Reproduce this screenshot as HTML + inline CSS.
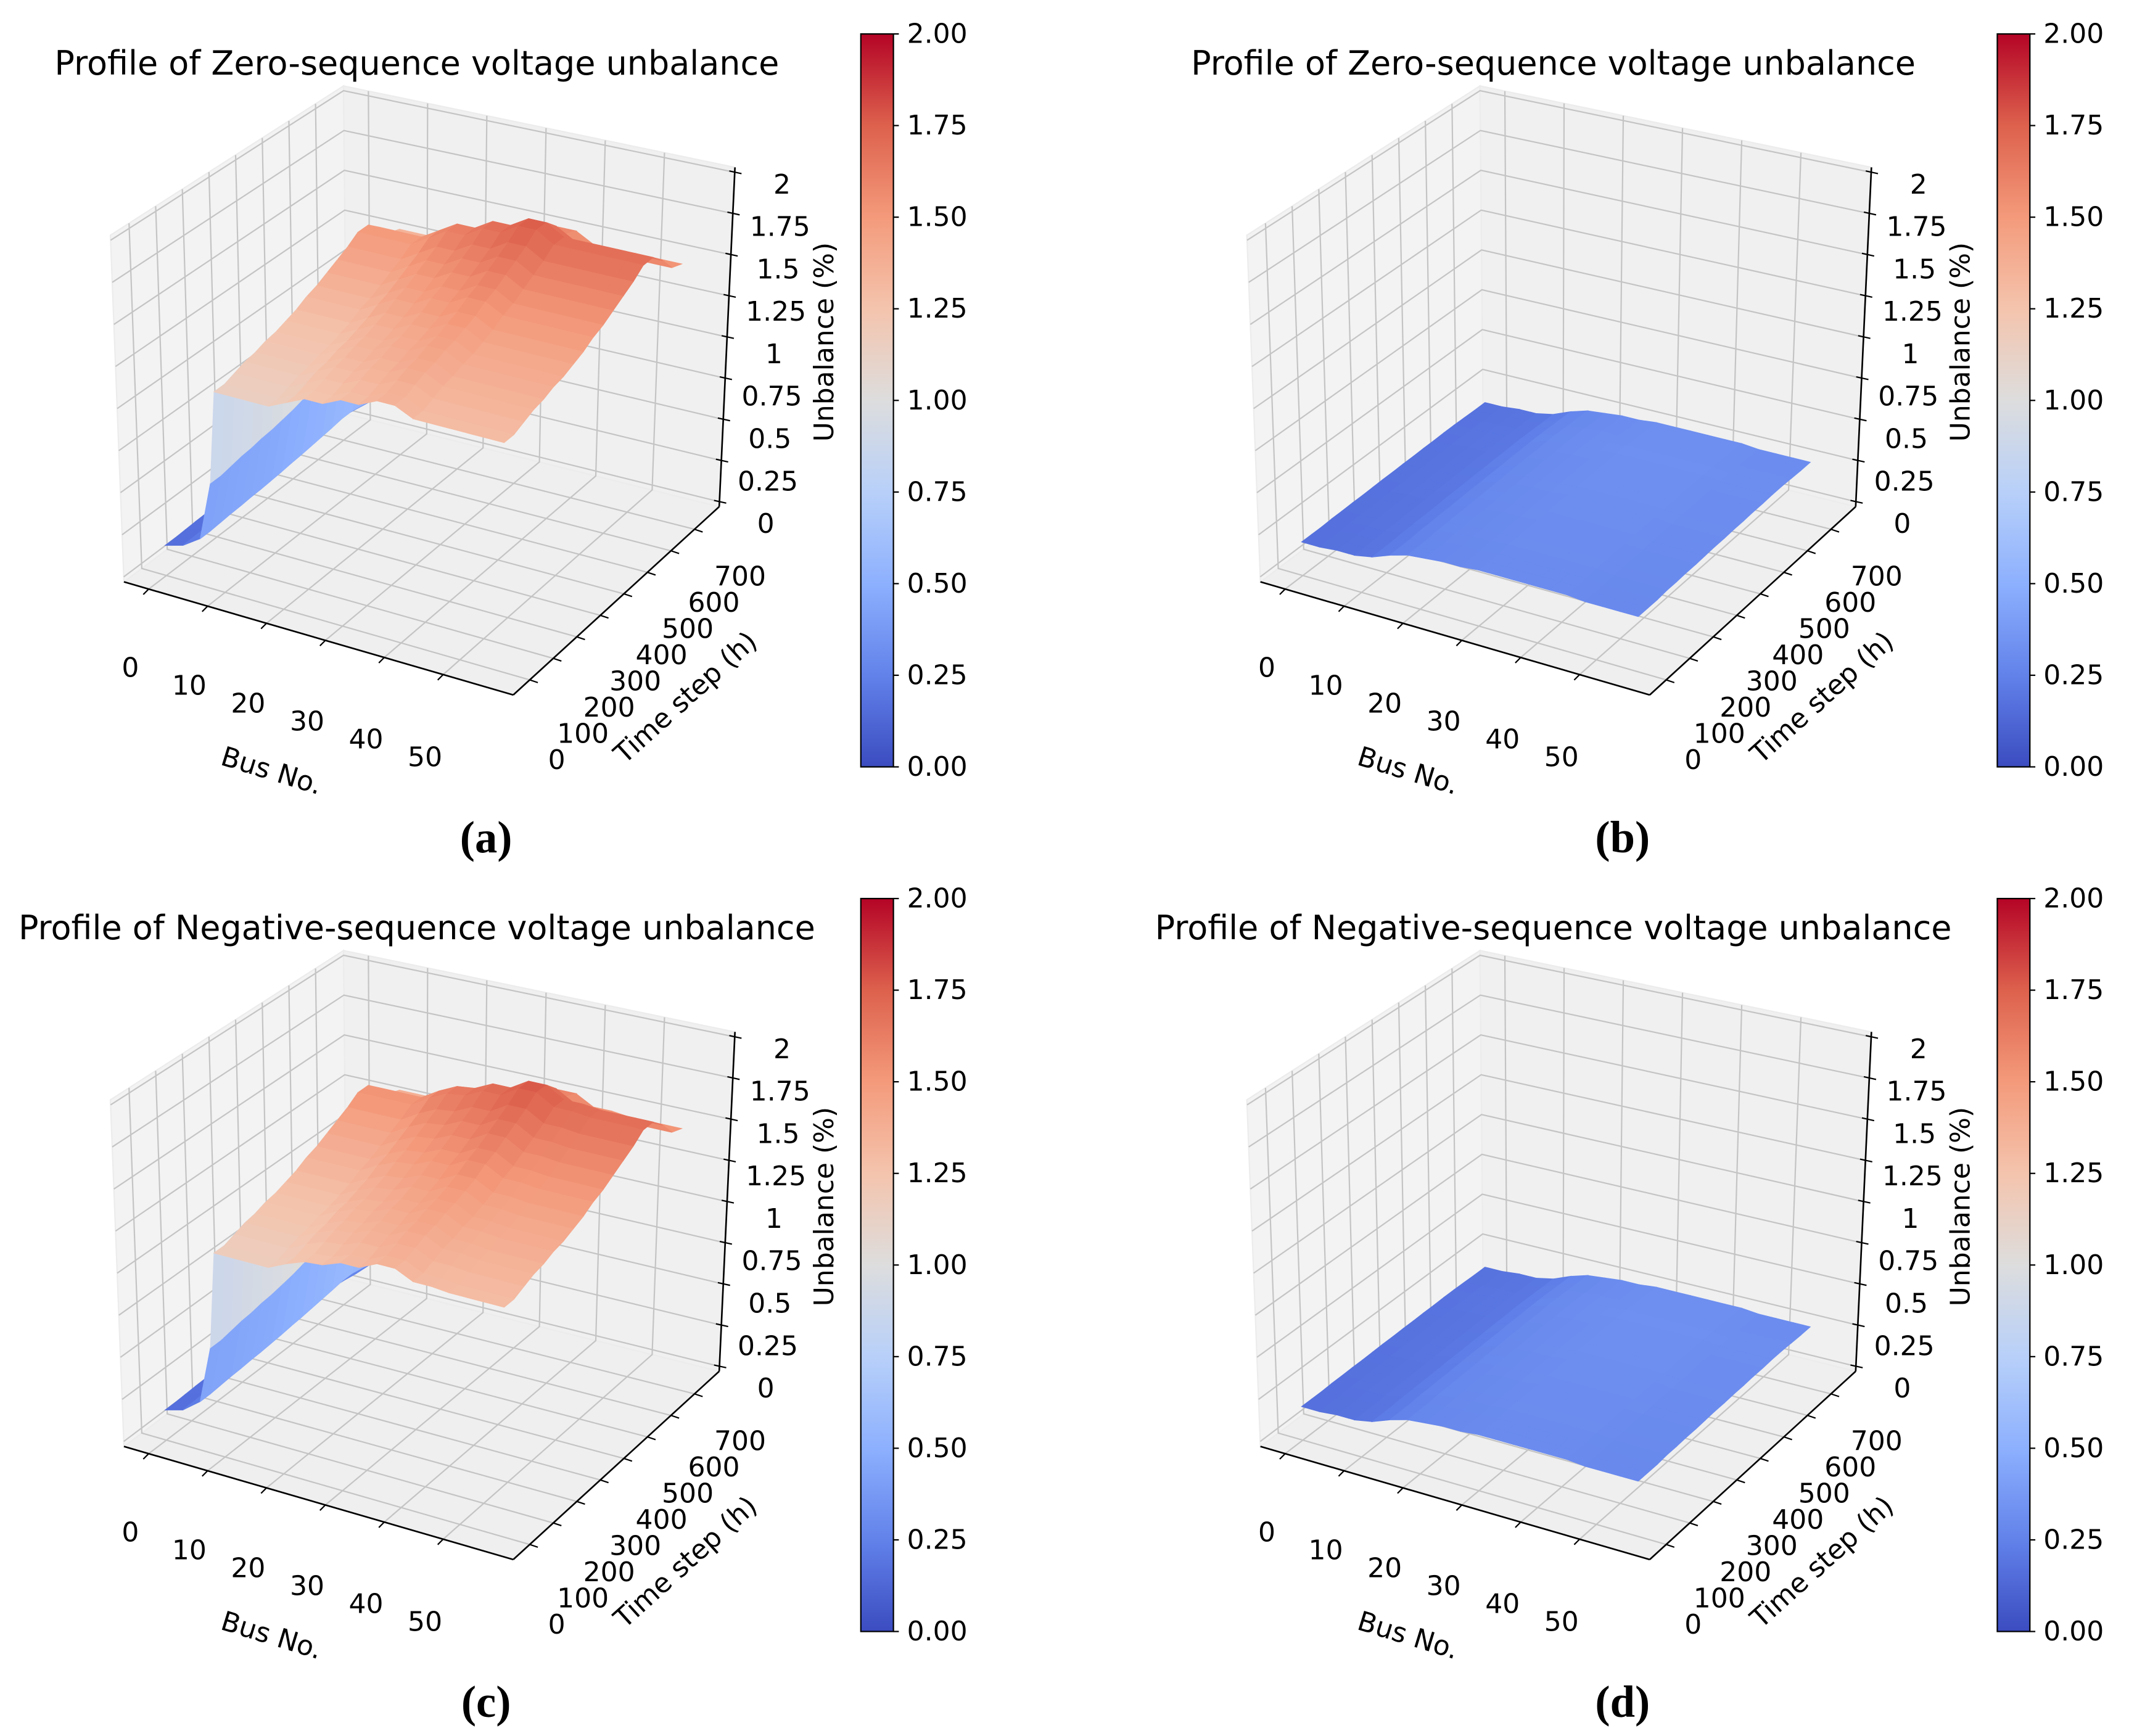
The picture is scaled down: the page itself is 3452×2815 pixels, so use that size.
<!DOCTYPE html>
<html><head><meta charset="utf-8"><title>Voltage unbalance profiles</title>
<style>
html,body{margin:0;padding:0;background:#fff;}
svg{display:block;}
text{font-family:"DejaVu Sans","Liberation Sans",sans-serif;fill:#000;}
.cap{font-family:"Liberation Serif",serif;font-weight:bold;}
</style></head>
<body>
<svg id="fig" xmlns="http://www.w3.org/2000/svg" width="3452" height="2815" viewBox="0 0 1568 1279" preserveAspectRatio="none">
<rect x="0" y="0" width="1568" height="1279" fill="#fff"/>
<defs>
<linearGradient id="cw" x1="0" y1="1" x2="0" y2="0">
<stop offset="0" stop-color="rgb(59,76,192)"/>
<stop offset="0.125" stop-color="rgb(98,130,234)"/>
<stop offset="0.25" stop-color="rgb(141,176,254)"/>
<stop offset="0.375" stop-color="rgb(184,208,249)"/>
<stop offset="0.5" stop-color="rgb(221,221,221)"/>
<stop offset="0.625" stop-color="rgb(244,196,173)"/>
<stop offset="0.75" stop-color="rgb(244,154,123)"/>
<stop offset="0.875" stop-color="rgb(221,97,77)"/>
<stop offset="1" stop-color="rgb(180,4,38)"/>
</linearGradient>
</defs>
<text class="cap" x="358" y="628" font-size="33" text-anchor="middle">(a)</text>
<text class="cap" x="1195" y="628" font-size="33" text-anchor="middle">(b)</text>
<text class="cap" x="358" y="1265" font-size="33" text-anchor="middle">(c)</text>
<text class="cap" x="1195" y="1265" font-size="33" text-anchor="middle">(d)</text>
</svg>
<script>
// ---- data ----
const busNo=[0,3,6,8,9,12,15,18,21,24,27,30,33,36,39,42,45,48,51,54,57];
const timeStep=[0,40,80,120,160,200,240,280,320,360,400,440,480,520,560,600,640,680,720];
const zeroBusLevelA=[0.15,0.18,0.25,0.6,1.15,1.15,1.15,1.15,1.2,1.25,1.25,1.3,1.3,1.35,1.35,1.3,1.3,1.3,1.3,1.3,1.3];
const zeroTimeFactorA=[0,0,0.02,0.04,0.05,0.07,0.08,0.1,0.12,0.15,0.17,0.2,0.23,0.26,0.3,0.3,0.25,0.18,0.16];
const zeroBusLevelB=[0.17,0.17,0.18,0.18,0.18,0.2,0.24,0.27,0.28,0.29,0.29,0.3,0.3,0.3,0.3,0.3,0.3,0.29,0.29,0.29,0.29];
const zeroTimeFactorB=[0,0,0,0.02,0.02,0.03,0.03,0.04,0.05,0.05,0.06,0.06,0.07,0.07,0.08,0.08,0.07,0.06,0.06];
const negBusLevelC=[0.15,0.18,0.26,0.6,1.17,1.17,1.17,1.17,1.22,1.26,1.27,1.31,1.31,1.36,1.36,1.31,1.31,1.3,1.3,1.3,1.3];
const negTimeFactorC=[0,0,0.02,0.04,0.05,0.07,0.08,0.1,0.12,0.15,0.17,0.2,0.23,0.26,0.3,0.3,0.25,0.18,0.16];
const negBusLevelD=[0.17,0.17,0.18,0.18,0.18,0.2,0.24,0.27,0.28,0.29,0.29,0.3,0.3,0.3,0.3,0.3,0.3,0.29,0.29,0.29,0.29];
const negTimeFactorD=[0,0,0,0.02,0.02,0.03,0.03,0.04,0.05,0.05,0.06,0.06,0.07,0.07,0.08,0.08,0.07,0.06,0.06];
const busTicks=[0,10,20,30,40,50];
const timeTicks=[0,100,200,300,400,500,600,700];
const zTicks=[0,0.25,0.5,0.75,1,1.25,1.5,1.75,2];
const zTickLabels=["0","0.25","0.5","0.75","1","1.25","1.5","1.75","2"];
const cbTicks=[0,0.25,0.5,0.75,1,1.25,1.5,1.75,2];
const cbTickLabels=["0.00","0.25","0.50","0.75","1.00","1.25","1.50","1.75","2.00"];

// ---- geometry ----
const NS="http://www.w3.org/2000/svg";
const svg=document.getElementById('fig');
const XMIN=-4.2,XMAX=61.9,TMIN=-70,TMAX=805,ZMIN=-0.03,ZMAX=2.03;
const A=[91.3,428.7],B=[255.3,305],C=[529.7,373.3],D=[378,512];
const At=[81.3,173.3],Bt=[253,63.3],Ct=[541.3,123.3],Dt=[382,249];
function bil(p,q,r,s,u,v){
  return [p[0]*(1-u)*(1-v)+q[0]*u*(1-v)+r[0]*(1-u)*v+s[0]*u*v,
          p[1]*(1-u)*(1-v)+q[1]*u*(1-v)+r[1]*(1-u)*v+s[1]*u*v];
}
function P(bus,t,z){
  const u=(bus-XMIN)/(XMAX-XMIN),v=(t-TMIN)/(TMAX-TMIN),w=(z-ZMIN)/(ZMAX-ZMIN);
  const b=bil(A,D,B,C,u,v),tp=bil(At,Dt,Bt,Ct,u,v);
  return [b[0]+(tp[0]-b[0])*w,b[1]+(tp[1]-b[1])*w];
}
const stops=[[59,76,192],[98,130,234],[141,176,254],[184,208,249],[221,221,221],[244,196,173],[244,154,123],[221,97,77],[180,4,38]];
function cmap(z){
  let n=Math.max(0,Math.min(1,z/2))*8;let i=Math.min(7,Math.floor(n));let f=n-i;
  const a=stops[i],b=stops[i+1];
  return 'rgb('+[0,1,2].map(k=>Math.round(a[k]+(b[k]-a[k])*f)).join(',')+')';
}
function mk(tag,attrs,parent){const e=document.createElementNS(NS,tag);for(const k in attrs)e.setAttribute(k,attrs[k]);parent.appendChild(e);return e;}
function pts(arr){return arr.map(p=>p[0].toFixed(2)+','+p[1].toFixed(2)).join(' ');}

function drawPanel(name,ox,oy,title,levels,factors){
  const g=mk('g',{transform:'translate('+ox+','+oy+')'},svg);
  
  
  const t=mk('text',{x:307,y:55,'font-size':24.5,'text-anchor':'middle'},g);
  
  
  t.textContent=title;
  const panes=mk('g',{},g);
  
  
  mk('polygon',{points:pts([P(XMIN,TMIN,ZMIN),P(XMAX,TMIN,ZMIN),P(XMAX,TMAX,ZMIN),P(XMIN,TMAX,ZMIN)]),fill:'#efefef',stroke:'#e8e8e8','stroke-width':1},panes);
  mk('polygon',{points:pts([P(XMIN,TMIN,ZMIN),P(XMIN,TMAX,ZMIN),P(XMIN,TMAX,ZMAX),P(XMIN,TMIN,ZMAX)]),fill:'#f3f3f3',stroke:'#ececec','stroke-width':1},panes);
  mk('polygon',{points:pts([P(XMIN,TMAX,ZMIN),P(XMAX,TMAX,ZMIN),P(XMAX,TMAX,ZMAX),P(XMIN,TMAX,ZMAX)]),fill:'#f0f0f0',stroke:'#ececec','stroke-width':1},panes);
  const grid=mk('g',{stroke:'#c4c4c4','stroke-width':1,fill:'none'},g);
  
  
  busTicks.forEach(b=>{
    mk('polyline',{points:pts([P(b,TMIN,ZMIN),P(b,TMAX,ZMIN),P(b,TMAX,ZMAX)])},grid);
  });
  timeTicks.forEach(tt=>{
    mk('polyline',{points:pts([P(XMAX,tt,ZMIN),P(XMIN,tt,ZMIN),P(XMIN,tt,ZMAX)])},grid);
  });
  zTicks.forEach(z=>{
    mk('polyline',{points:pts([P(XMIN,TMIN,z),P(XMIN,TMAX,z),P(XMAX,TMAX,z)])},grid);
  });
  const surf=mk('g',{},g);
  
  
  const zv=(i,j)=>levels[i]*(1+factors[j]);
  const quads=[];
  for(let i=0;i<busNo.length-1;i++)for(let j=0;j<timeStep.length-1;j++){
    const u=(busNo[i]-XMIN)/(XMAX-XMIN),v=(timeStep[j]-TMIN)/(TMAX-TMIN);
    quads.push({i,j,key:u+(1-v)});
  }
  quads.sort((a,b)=>a.key-b.key);
  quads.forEach(q=>{
    const i=q.i,j=q.j;
    const z00=zv(i,j),z10=zv(i+1,j),z11=zv(i+1,j+1),z01=zv(i,j+1);
    const zm=(z00+z10+z11+z01)/4;
    const col=cmap(zm);
    const poly=mk('polygon',{points:pts([P(busNo[i],timeStep[j],z00),P(busNo[i+1],timeStep[j],z10),P(busNo[i+1],timeStep[j+1],z11),P(busNo[i],timeStep[j+1],z01)]),fill:col,stroke:col,'stroke-width':0.6},surf);
    
    
  });
  const ax=mk('g',{stroke:'#000','stroke-width':1.2,fill:'none'},g);
  
  
  mk('line',{x1:P(XMIN,TMIN,ZMIN)[0],y1:P(XMIN,TMIN,ZMIN)[1],x2:P(XMAX,TMIN,ZMIN)[0],y2:P(XMAX,TMIN,ZMIN)[1]},ax);
  mk('line',{x1:P(XMAX,TMIN,ZMIN)[0],y1:P(XMAX,TMIN,ZMIN)[1],x2:P(XMAX,TMAX,ZMIN)[0],y2:P(XMAX,TMAX,ZMIN)[1]},ax);
  mk('line',{x1:P(XMAX,TMAX,ZMIN)[0],y1:P(XMAX,TMAX,ZMIN)[1],x2:P(XMAX,TMAX,ZMAX)[0],y2:P(XMAX,TMAX,ZMAX)[1]},ax);
  const lab=mk('g',{'font-size':20,'text-anchor':'middle','dominant-baseline':'central'},g);
  busTicks.forEach(b=>{
    const p=P(b,TMIN,ZMIN);
    mk('line',{x1:p[0],y1:p[1],x2:p[0]-4,y2:p[1]+4,stroke:'#000','stroke-width':1},ax);
    const e=mk('text',{x:96+4.34*b,y:492+1.32*b},lab);
    
    
    e.textContent=b;
  });
  timeTicks.forEach(tt=>{
    const p=P(XMAX,tt,ZMIN);
    mk('line',{x1:p[0],y1:p[1],x2:p[0]+6,y2:p[1]+2,stroke:'#000','stroke-width':1},ax);
    const e=mk('text',{x:410+0.193*tt,y:560-0.193*tt},lab);
    
    
    e.textContent=tt;
  });
  zTicks.forEach((z,k)=>{
    const p=P(XMAX,TMAX,z);
    mk('line',{x1:p[0]-4,y1:p[1]-1,x2:p[0]+5,y2:p[1]+1,stroke:'#000','stroke-width':1},ax);
    const e=mk('text',{x:564+6*z,y:386-125*z},lab);
    
    
    e.textContent=zTickLabels[k];
  });
  const xt=mk('text',{x:200,y:568,'font-size':20,'text-anchor':'middle','dominant-baseline':'central',transform:'rotate(17 200 568)'},g);
  
  
  xt.textContent='Bus No.';
  const yt=mk('text',{x:505,y:514,'font-size':20,'text-anchor':'middle','dominant-baseline':'central',transform:'rotate(-42 505 514)'},g);
  
  
  yt.textContent='Time step (h)';
  const zt=mk('text',{x:607,y:252,'font-size':20,'text-anchor':'middle','dominant-baseline':'central',transform:'rotate(-90 607 252)'},g);
  
  
  zt.textContent='Unbalance (%)';
  const cb=mk('g',{},g);
  
  
  mk('rect',{x:634,y:25,width:24,height:540,fill:'url(#cw)',stroke:'#000','stroke-width':1},cb);
  cbTicks.forEach((v,k)=>{
    const y=565-270*v;
    mk('line',{x1:658,y1:y,x2:662,y2:y,stroke:'#000','stroke-width':1},cb);
    const e=mk('text',{x:668,y:y,'font-size':20,'dominant-baseline':'central'},cb);
    
    
    e.textContent=cbTickLabels[k];
  });
}
drawPanel('panel-a',0,0,'Profile of Zero-sequence voltage unbalance',zeroBusLevelA,zeroTimeFactorA);
drawPanel('panel-b',837,0,'Profile of Zero-sequence voltage unbalance',zeroBusLevelB,zeroTimeFactorB);
drawPanel('panel-c',0,637,'Profile of Negative-sequence voltage unbalance',negBusLevelC,negTimeFactorC);
drawPanel('panel-d',837,637,'Profile of Negative-sequence voltage unbalance',negBusLevelD,negTimeFactorD);
</script>
</body></html>
